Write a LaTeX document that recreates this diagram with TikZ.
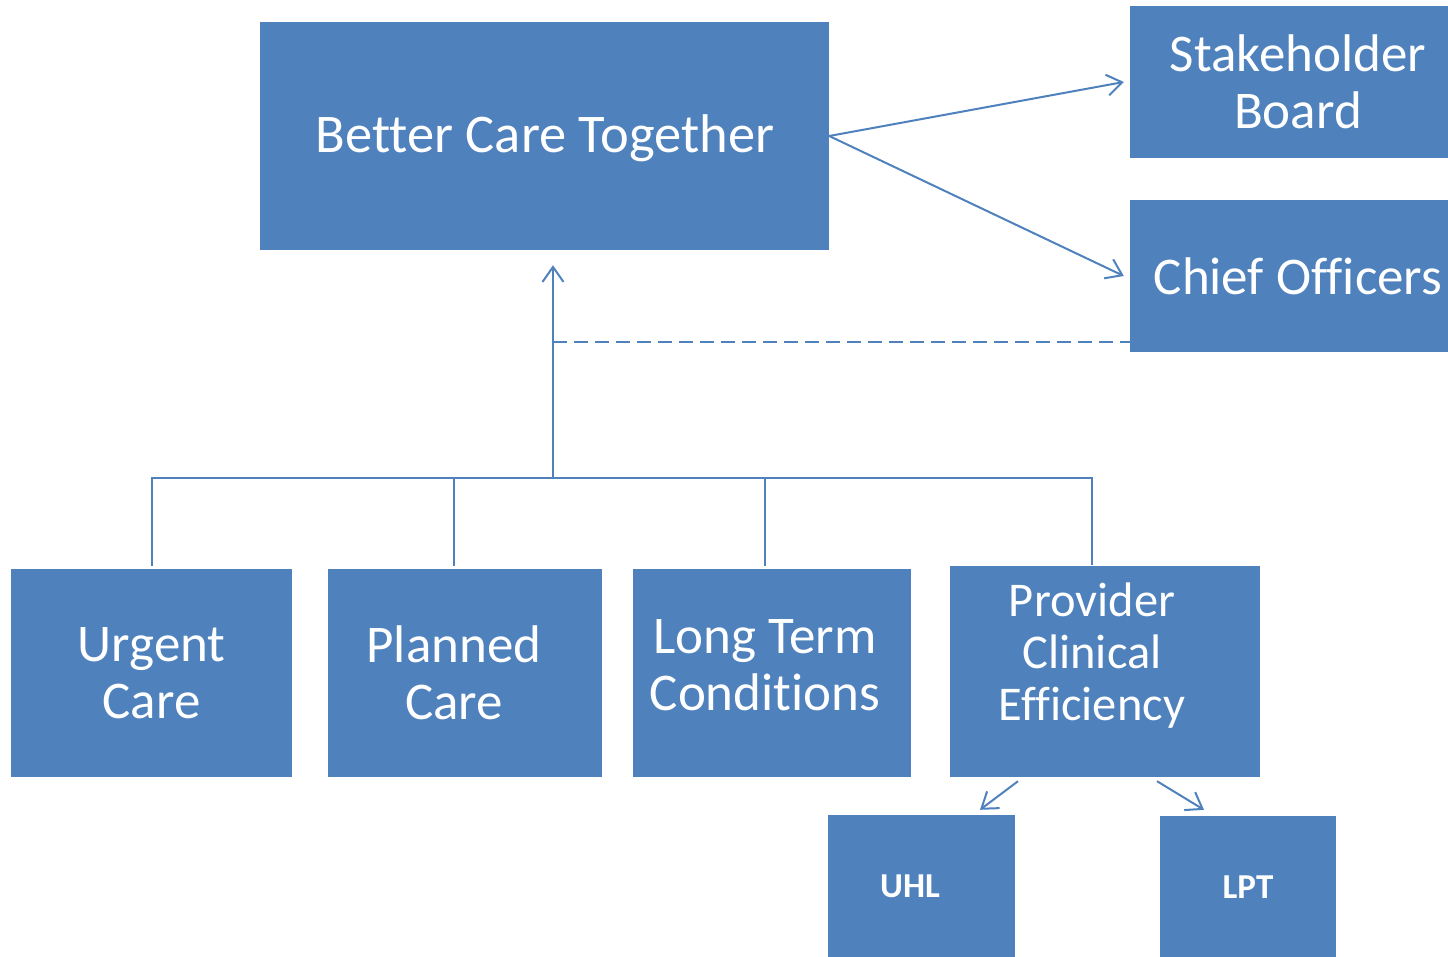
\documentclass[tikz,border=0pt]{standalone}
\usepackage{fontspec}
\setmainfont{Carlito}[Ligatures=NoCommon, RawFeature={-liga;-calt;-clig}]
\usepackage{tikz}
\usetikzlibrary{positioning, calc, arrows.meta}
\definecolor{boxblue}{RGB}{79, 129, 189}

\begin{document}
\begin{tikzpicture}[
  x=1pt, y=-1pt,
  box/.style={rectangle, fill=boxblue, draw=none, inner sep=0, text=white, align=center,
              font=\fontsize{53}{57}\selectfont},
  boxtext/.style={inner sep=0, text=white, align=center, font=\fontsize{53}{57}\selectfont},
  smalltext/.style={inner sep=0, text=white, font=\fontsize{35}{40}\selectfont\bfseries},
  link/.style={draw=boxblue, line width=2pt},
  arrowlink/.style={link, -{Straight Barb[length=15pt, width=21pt]}},
]
\useasboundingbox (0,0) rectangle (1448,957);

% ==================== Top row ====================
\node[box, minimum width=569, minimum height=228] (bct) at (544.5, 136) {};
\node[boxtext, font=\fontsize{54.5}{58}\selectfont] (bcttext) at (545, 138) {Better Care Together};
\node[box, minimum width=336, minimum height=152] (stake) at (1298, 82) {Stakeholder\\Board};
\node[box, minimum width=336, minimum height=152] (chief) at (1298, 276) {Chief Officers};

% ==================== Work streams ====================
\node[box, minimum width=281, minimum height=208] (urgent) at (151.5, 673) {Urgent\\Care};
\node[box, minimum width=274, minimum height=208] (planned) at (465, 673) {};
\node[boxtext] (plannedtext) at (454, 673) {Planned\\Care};
\node[box, minimum width=278, minimum height=208] (longterm) at (772, 673) {};
\node[boxtext] (longtermtext) at (765, 665) {Long Term\\Conditions};
\node[box, minimum width=310, minimum height=211] (provider) at (1105, 671.5) {};
\node[boxtext, font=\fontsize{48.5}{52}\selectfont] (providertext) at (1092, 656) {Provider\\Clinical\\Efficiency};

% ==================== Providers ====================
\node[box, minimum width=187, minimum height=170] (uhl) at (921.5, 900) {};
\node[smalltext] (uhltext) at (910, 886) {UHL};
\node[box, minimum width=176, minimum height=169] (lpt) at (1248, 900.5) {};
\node[smalltext] (lpttext) at (1248, 887) {LPT};

% ==================== Connectors ====================
\coordinate (hub) at (553, 478);
\coordinate (dash) at (553, 342);
\draw[arrowlink] (bct.east) -- ([xshift=-6pt]stake.west);
\draw[arrowlink] (bct.east) -- ([xshift=-6pt]chief.west);
\draw[arrowlink] (hub) -- ([yshift=-15pt]hub |- bct.south);
\draw[link, dashed, dash pattern=on 14pt off 7pt] (dash) -- (dash -| chief.west);
\draw[link] ([yshift=3pt]urgent.north) |- (hub);
\draw[link] ([yshift=3pt]plannedtext |- planned.north) |- (hub);
\draw[link] ([yshift=3pt]longtermtext |- longterm.north) |- (hub);
\draw[link] ([yshift=1pt]providertext |- provider.north) |- (hub);
\draw[arrowlink] ([xshift=-87pt, yshift=-4pt]provider.south) -- ([xshift=58.5pt, yshift=5pt]uhl.north);
\draw[arrowlink] ([xshift=52pt, yshift=-4pt]provider.south) -- ([xshift=-44pt, yshift=6pt]lpt.north);

\end{tikzpicture}
\end{document}
